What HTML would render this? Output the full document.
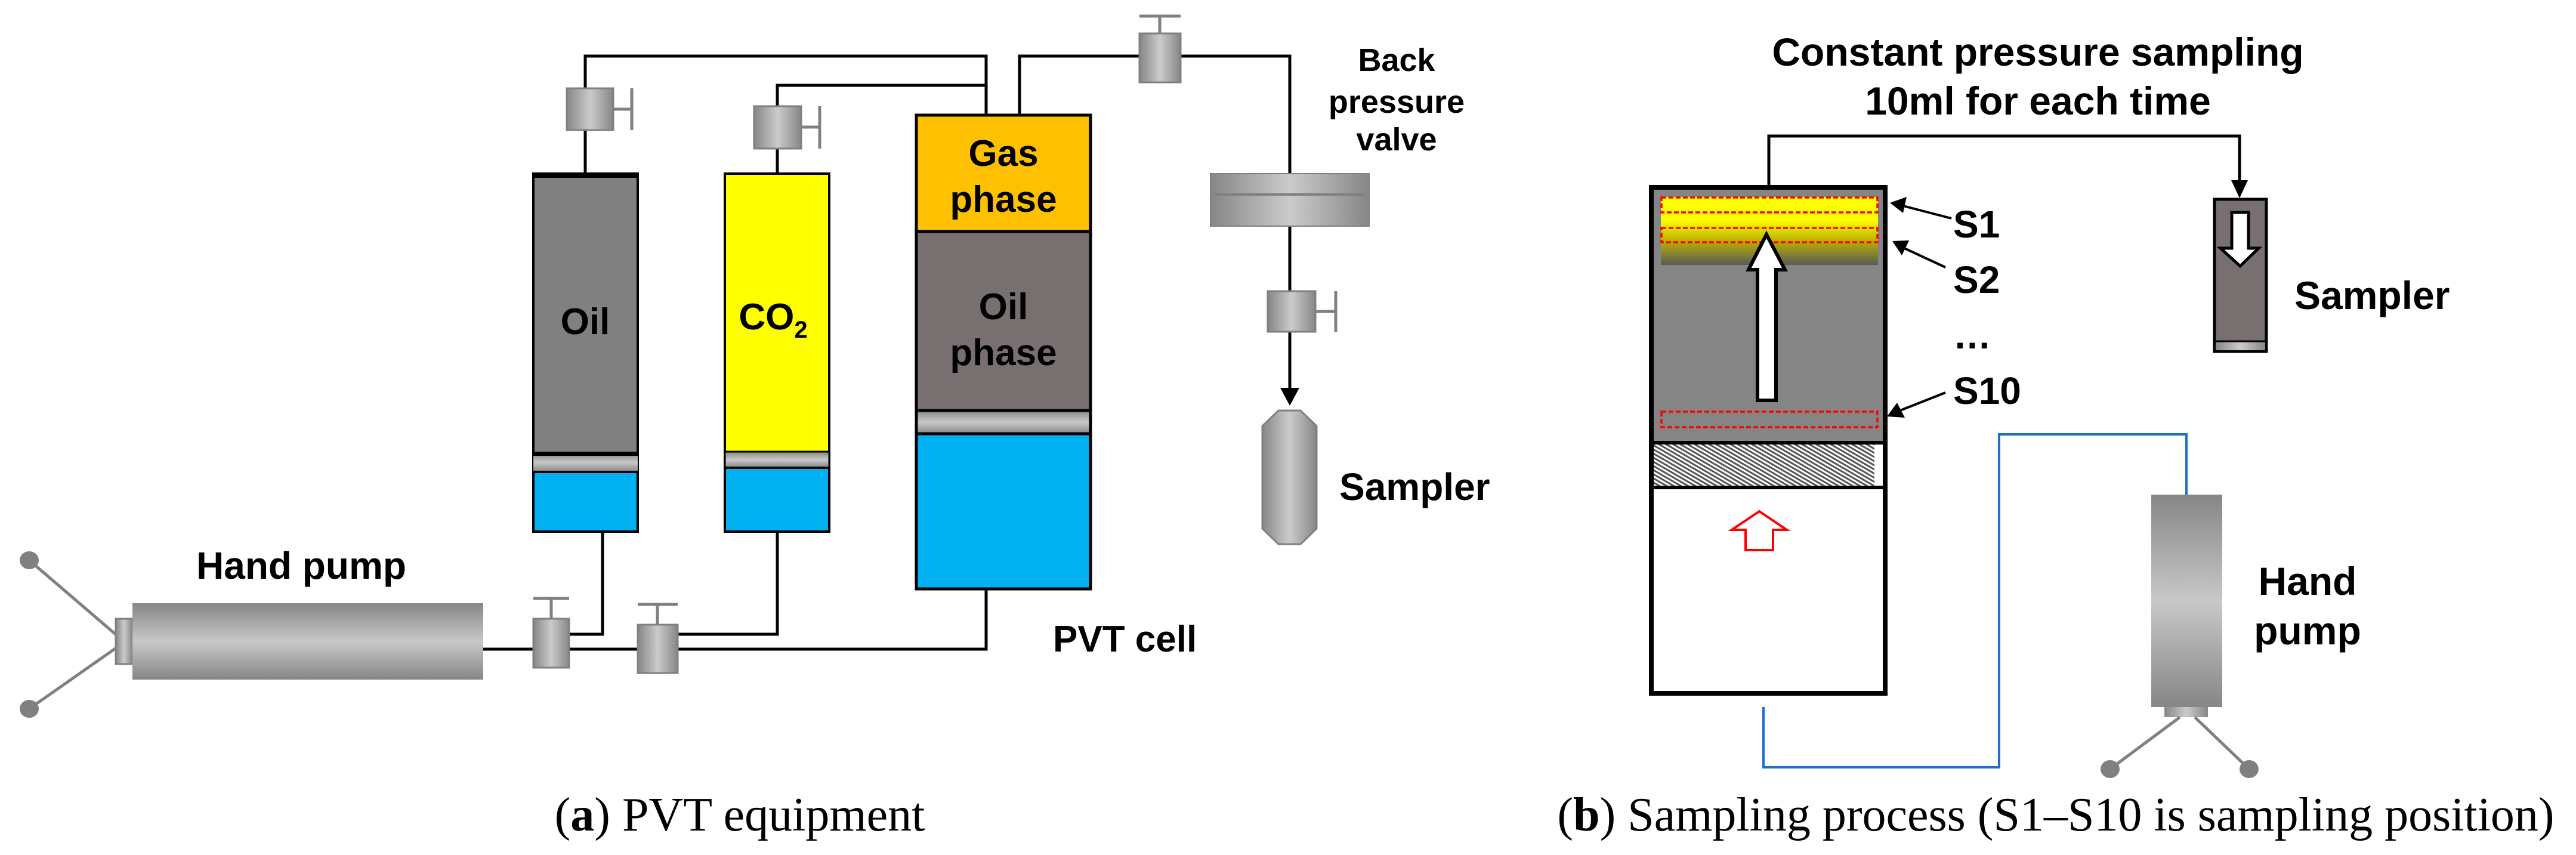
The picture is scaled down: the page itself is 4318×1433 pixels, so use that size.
<!DOCTYPE html>
<html><head><meta charset="utf-8"><style>
html,body{margin:0;padding:0;background:#fff;}
svg{display:block;}
text{font-family:"Liberation Sans",Arial,sans-serif;font-weight:bold;fill:#000;}
.cap{font-family:"Liberation Serif",serif;font-weight:normal;}
</style></head><body>
<svg width="4318" height="1433" viewBox="0 0 4318 1433" xmlns="http://www.w3.org/2000/svg">
<defs>
<linearGradient id="mh" x1="0" y1="0" x2="1" y2="0"><stop offset="0" stop-color="#868686"/><stop offset="0.5" stop-color="#cbcbcb"/><stop offset="1" stop-color="#868686"/></linearGradient>
<linearGradient id="mv" x1="0" y1="0" x2="0" y2="1"><stop offset="0" stop-color="#868686"/><stop offset="0.5" stop-color="#c8c8c8"/><stop offset="1" stop-color="#868686"/></linearGradient>
<linearGradient id="yel" x1="0" y1="0" x2="0" y2="1"><stop offset="0" stop-color="#ffff00"/><stop offset="0.35" stop-color="#fcfc00"/><stop offset="0.65" stop-color="#b8b000"/><stop offset="1" stop-color="#5a5a5a"/></linearGradient>
<pattern id="hatch" width="6" height="6" patternUnits="userSpaceOnUse" patternTransform="rotate(-60)"><rect width="6" height="6" fill="#fff"/><rect width="3" height="6" fill="#555"/></pattern>
</defs>

<!-- ===== (a) ===== -->
<g stroke="#000" stroke-width="5" fill="none">
<polyline points="981,291 981,94 1653,94 1653,193"/>
<polyline points="1303,291 1303,143 1653,143"/>
<polyline points="1709,193 1709,94 2162,94 2162,650"/>
<polyline points="810,1088 1653,1088 1653,987"/>
<polyline points="1010,891 1010,1063 954,1063"/>
<polyline points="1303,891 1303,1063 1136,1063"/>
</g>
<polygon points="2146,650 2178,650 2162,680" fill="#000"/>

<rect x="894" y="291" width="175" height="600" fill="#808080" stroke="#000" stroke-width="4"/>
<rect x="894" y="289" width="175" height="9" fill="#000"/>
<rect x="894" y="759" width="175" height="32" fill="url(#mv)"/>
<rect x="894" y="757" width="175" height="7" fill="#000"/>
<rect x="894" y="791" width="175" height="100" fill="#00b0f0" stroke="#000" stroke-width="4"/>
<text x="981" y="560" font-size="62" text-anchor="middle">Oil</text>

<rect x="1215" y="291" width="175" height="600" fill="#ffff00" stroke="#000" stroke-width="4"/>
<rect x="1215" y="757" width="175" height="27" fill="url(#mv)" stroke="#000" stroke-width="3"/>
<rect x="1215" y="784" width="175" height="107" fill="#00b0f0" stroke="#000" stroke-width="4"/>
<text x="1296" y="552" font-size="62" text-anchor="middle">CO<tspan font-size="40" dy="14">2</tspan></text>

<rect x="1536" y="193" width="292" height="195" fill="#ffc000" stroke="#000" stroke-width="5"/>
<rect x="1536" y="388" width="292" height="300" fill="#787070" stroke="#000" stroke-width="5"/>
<rect x="1536" y="688" width="292" height="39" fill="url(#mv)" stroke="#000" stroke-width="5"/>
<rect x="1536" y="727" width="292" height="260" fill="#00b0f0" stroke="#000" stroke-width="5"/>
<text x="1682" y="278" font-size="62" text-anchor="middle">Gas</text>
<text x="1682" y="355" font-size="62" text-anchor="middle">phase</text>
<text x="1682" y="535" font-size="62" text-anchor="middle">Oil</text>
<text x="1682" y="612" font-size="62" text-anchor="middle">phase</text>

<g stroke="#808080" stroke-width="5">
<line x1="1028" y1="183" x2="1059" y2="183"/><line x1="1059" y1="148" x2="1059" y2="218"/>
<line x1="1343" y1="213" x2="1374" y2="213"/><line x1="1374" y1="178" x2="1374" y2="249"/>
<line x1="1944" y1="56" x2="1944" y2="27"/><line x1="1910" y1="27" x2="1979" y2="27"/>
<line x1="2205" y1="522" x2="2239" y2="522"/><line x1="2239" y1="488" x2="2239" y2="556"/>
<line x1="924" y1="1037" x2="924" y2="1003"/><line x1="894" y1="1003" x2="954" y2="1003"/>
<line x1="1102" y1="1047" x2="1102" y2="1013"/><line x1="1069" y1="1013" x2="1136" y2="1013"/>
</g>
<g fill="url(#mh)" stroke="#808080" stroke-width="3">
<rect x="950" y="148" width="78" height="70"/>
<rect x="1264" y="178" width="79" height="71"/>
<rect x="1910" y="56" width="69" height="82"/>
<rect x="2125" y="488" width="80" height="68"/>
<rect x="894" y="1037" width="60" height="82"/>
<rect x="1069" y="1047" width="67" height="81"/>
</g>
<rect x="2029" y="291" width="266" height="88" fill="url(#mh)" stroke="#808080" stroke-width="2"/>
<line x1="2035" y1="326" x2="2289" y2="326" stroke="#808080" stroke-width="4"/>
<polygon points="2143,688 2180,688 2207,714 2207,886 2180,912 2143,912 2116,886 2116,714" fill="url(#mh)" stroke="#808080" stroke-width="3"/>
<text x="2341" y="119" font-size="54" text-anchor="middle">Back</text>
<text x="2341" y="189" font-size="54" text-anchor="middle">pressure</text>
<text x="2341" y="252" font-size="54" text-anchor="middle">valve</text>
<text x="2245" y="838" font-size="64">Sampler</text>

<g stroke="#808080" stroke-width="5"><line x1="196" y1="1065" x2="49" y2="939"/><line x1="196" y1="1085" x2="49" y2="1188"/></g>
<ellipse cx="49" cy="939" rx="16" ry="15" fill="#808080"/>
<ellipse cx="49" cy="1188" rx="16" ry="15" fill="#808080"/>
<rect x="194" y="1037" width="28" height="76" fill="url(#mh)" stroke="#808080" stroke-width="3"/>
<rect x="222" y="1011" width="588" height="128" fill="url(#mv)"/>
<text x="505" y="970" font-size="64" text-anchor="middle">Hand pump</text>
<text x="1765" y="1092" font-size="62">PVT cell</text>
<text class="cap" x="1240" y="1392" font-size="80" text-anchor="middle">(<tspan font-weight="bold">a</tspan>) PVT equipment</text>

<!-- ===== (b) ===== -->
<text x="3416" y="110" font-size="66" text-anchor="middle">Constant pressure sampling</text>
<text x="3416" y="192" font-size="66" text-anchor="middle">10ml for each time</text>
<polyline points="2965,317 2965,228 3754,228 3754,305" stroke="#000" stroke-width="5" fill="none"/>
<polygon points="3740,302 3768,302 3754,332" fill="#000"/>

<rect x="2768" y="314" width="392" height="848" fill="#fff" stroke="#000" stroke-width="8"/>
<rect x="2772" y="318" width="384" height="423" fill="#858585"/>
<rect x="2784" y="330" width="364" height="114" fill="url(#yel)"/>
<rect x="2772" y="745" width="370" height="69" fill="url(#hatch)"/>
<line x1="2772" y1="742" x2="3156" y2="742" stroke="#000" stroke-width="6"/>
<line x1="2772" y1="817" x2="3156" y2="817" stroke="#000" stroke-width="6"/>
<g fill="none" stroke="#f00" stroke-width="3.5" stroke-dasharray="8,4">
<rect x="2785" y="331" width="362" height="25"/>
<rect x="2785" y="382" width="362" height="24"/>
<rect x="2785" y="690" width="362" height="26"/>
</g>
<polygon points="2961,393 2992,452 2977,452 2977,671 2946,671 2946,452 2931,452" fill="#fff" stroke="#000" stroke-width="6"/>
<polygon points="2949,857 2995,888 2972,888 2972,922 2926,922 2926,888 2903,888" fill="#fff" stroke="#f00" stroke-width="4"/>

<g stroke="#000" stroke-width="4"><line x1="3271" y1="366" x2="3190" y2="345"/><line x1="3261" y1="448" x2="3192" y2="416"/><line x1="3261" y1="658" x2="3185" y2="688"/></g>
<polygon points="3168,340 3196,330 3190,357" fill="#000"/>
<polygon points="3172,404 3200,403 3188,428" fill="#000"/>
<polygon points="3163,698 3180,675 3193,700" fill="#000"/>
<text x="3274" y="398" font-size="64">S1</text>
<text x="3274" y="491" font-size="64">S2</text>
<text x="3274" y="584" font-size="64">…</text>
<text x="3274" y="677" font-size="64">S10</text>

<rect x="3712" y="334" width="87" height="255" fill="#787070" stroke="#000" stroke-width="5"/>
<rect x="3714" y="573" width="83" height="14" fill="url(#mh)"/>
<line x1="3712" y1="572" x2="3799" y2="572" stroke="#000" stroke-width="3"/>
<polygon points="3741,356 3769,356 3769,416 3786,416 3755,446 3722,416 3741,416" fill="#fff" stroke="#000" stroke-width="5"/>
<text x="3846" y="518" font-size="66">Sampler</text>

<polyline points="2956,1185 2956,1286 3351,1286 3351,728 3665,728 3665,829" stroke="#1f6fc8" stroke-width="4" fill="none"/>

<rect x="3606" y="829" width="119" height="356" fill="url(#mv)"/>
<rect x="3628" y="1185" width="73" height="17" fill="url(#mh)"/>
<g stroke="#808080" stroke-width="5"><line x1="3654" y1="1202" x2="3537" y2="1289"/><line x1="3679" y1="1202" x2="3770" y2="1289"/></g>
<ellipse cx="3537" cy="1289" rx="16" ry="15" fill="#808080"/>
<ellipse cx="3770" cy="1289" rx="16" ry="15" fill="#808080"/>
<text x="3868" y="997" font-size="66" text-anchor="middle">Hand</text>
<text x="3868" y="1080" font-size="66" text-anchor="middle">pump</text>

<text class="cap" x="3446" y="1392" font-size="80" text-anchor="middle">(<tspan font-weight="bold">b</tspan>) Sampling process (S1–S10 is sampling position)</text>
</svg>
</body></html>
